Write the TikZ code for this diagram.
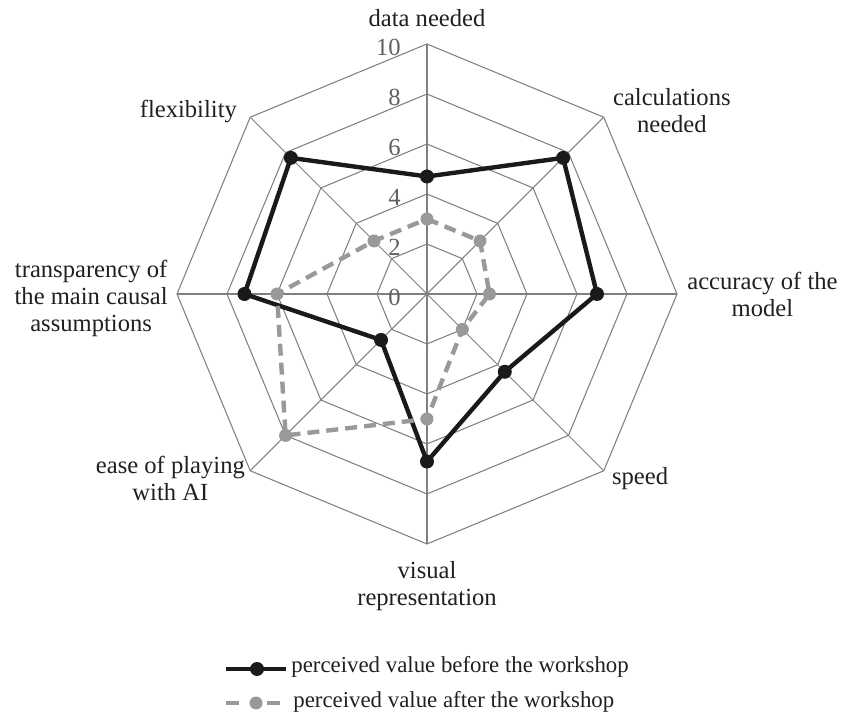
\documentclass[tikz,border=0pt]{standalone}
\usepackage{fontspec}
\setmainfont{Liberation Serif}
\usetikzlibrary{calc, positioning}

\definecolor{gridgray}{HTML}{808080}
\definecolor{beforeblack}{HTML}{1A1A1A}
\definecolor{aftergray}{HTML}{999999}
\definecolor{labeltext}{HTML}{231F20}
\definecolor{scaletext}{HTML}{606060}

\begin{document}
\begin{tikzpicture}[
    x=0.5cm, y=0.5cm,
    grid line/.style={draw=gridgray, line width=0.6pt},
    before line/.style={draw=beforeblack, line width=2.5pt, line join=round},
    after line/.style={draw=aftergray, line width=2.5pt, dash pattern=on 6.8pt off 4pt},
    before dot/.style={circle, fill=beforeblack, inner sep=0pt, minimum size=0.28cm},
    after dot/.style={circle, fill=aftergray, inner sep=0pt, minimum size=0.26cm},
    axis label/.style={text=labeltext, align=center, inner sep=0pt, font=\fontsize{14}{15.4}\selectfont},
    scale label/.style={text=scaletext, inner sep=0pt, anchor=east, font=\fontsize{14}{15.4}\selectfont},
    legend text/.style={text=labeltext, inner sep=0pt, anchor=base west, font=\fontsize{13}{15}\selectfont}
]

    % 0. Margins of the whole chart
    \useasboundingbox (-17.08,-16.88) rectangle (16.56,11.76);

    % 1. Axis ends (value 10), clockwise from the top
    \coordinate (O) at (0,0);
    \foreach \k in {1,...,8}
        \coordinate (ax\k) at ({90-45*(\k-1)}:10);

    % 2. Octagonal grid and spokes
    \foreach \r in {2,4,...,10}
        \draw[grid line] (90:\r) \foreach \k in {1,...,7} { -- ({90-45*\k}:\r) } -- cycle;
    \foreach \k in {1,...,8}
        \draw[grid line] (O) -- (ax\k);

    % 3. Scale values on the vertical axis
    \foreach \v in {0,2,...,10}
        \node[scale label] (s\v) at ($(0,\v)+(-0.52cm,-0.06cm)$) {\v};

    % 4. Data points (before / after the workshop)
    \foreach \val [count=\i] in {4.7,7.7,6.8,4.4,6.7,2.6,7.3,7.7}
        \coordinate (b\i) at ({90-45*(\i-1)}:\val);
    \foreach \val [count=\i] in {3.0,3.0,2.5,2.0,5.0,8.0,6.0,3.0}
        \coordinate (a\i) at ({90-45*(\i-1)}:\val);

    % 5. Before the workshop (black)
    \draw[before line] (b1) -- (b2) -- (b3) -- (b4) -- (b5) -- (b6) -- (b7) -- (b8) -- cycle;
    \foreach \i in {1,...,8}
        \node[before dot] (bd\i) at (b\i) {};

    % 6. After the workshop (grey, dashed)
    \draw[after line] (a1) -- (a2) -- (a3) -- (a4) -- (a5) -- (a6) -- (a7) -- (a8) -- cycle;
    \foreach \i in {1,...,8}
        \node[after dot] (ad\i) at (a\i) {};

    % 7. Axis labels
    \node[axis label, anchor=base] (lab1) at ($(ax1)+(0,0.34cm)$) {data needed};
    \node[axis label, anchor=north west] (lab2) at ($(ax2)+(0.18cm,0.58cm)$) {calculations\\needed};
    \node[axis label, anchor=north west] (lab3) at ($(ax3)+(0.2cm,0.44cm)$) {accuracy of the\\model};
    \node[axis label, anchor=base west] (lab4) at ($(ax4)+(0.16cm,-0.28cm)$) {speed};
    \node[axis label, anchor=north] (lab5) at ($(ax5)+(0,-0.34cm)$) {visual\\representation};
    \node[axis label, anchor=north east] (lab6) at ($(ax6)+(-0.1cm,0.3cm)$) {ease of playing\\with AI};
    \node[axis label, anchor=north east] (lab7) at ($(ax7)+(-0.18cm,0.68cm)$) {transparency of\\the main causal\\assumptions};
    \node[axis label, anchor=base east] (lab8) at ($(ax8)+(-0.26cm,0)$) {flexibility};

    % 8. Legend
    \coordinate (legbS) at (-8.04,-15.0);
    \coordinate (legbE) at (-5.64,-15.0);
    \draw[before line] (legbS) -- (legbE);
    \node[before dot] (legbdot) at ($(legbS)!0.517!(legbE)$) {};
    \node[legend text] (legbtxt) at ($(legbE)+(0.1cm,-0.08cm)$) {perceived value before the workshop};

    \coordinate (legaS) at (-8.04,-16.36);
    \coordinate (legaE) at (-5.88,-16.36);
    \draw[after line, dash pattern=on 0.26cm off 0.56cm] (legaS) -- (legaE);
    \node[after dot] (legadot) at ($(legaS)!0.556!(legaE)$) {};
    \node[legend text] (legatxt) at ($(legaE)+(0.26cm,-0.1cm)$) {perceived value after the workshop};

\end{tikzpicture}
\end{document}
